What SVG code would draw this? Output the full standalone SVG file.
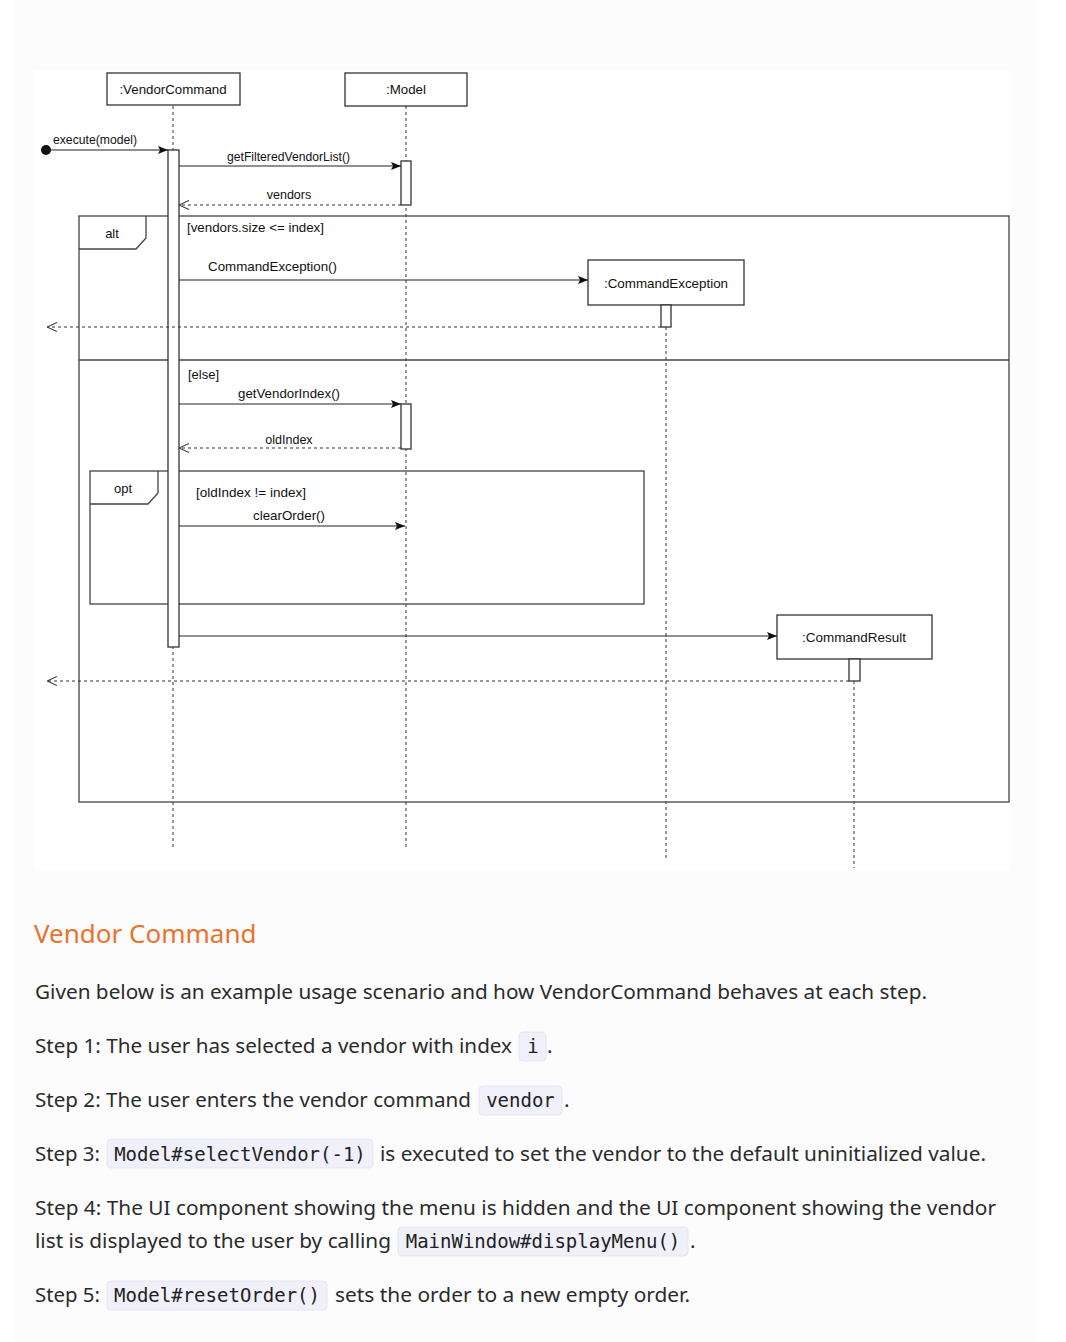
<svg xmlns="http://www.w3.org/2000/svg" width="1066" height="1342" viewBox="0 0 1066 1342">
<defs>
<style>
.box{fill:#fff;stroke:#333;stroke-width:1.3}
.frame{fill:none;stroke:#444;stroke-width:1.3}
.life{stroke:#555;stroke-width:1.2;stroke-dasharray:3,3;fill:none}
.act{fill:#fff;stroke:#333;stroke-width:1.3}
.msg{stroke:#222;stroke-width:1.2;fill:none}
.ret{stroke:#333;stroke-width:1.2;stroke-dasharray:3,3;fill:none}
.t{font-family:"Liberation Sans",Arial,sans-serif;font-size:13px;fill:#111}
.tn{font-family:"Liberation Sans",Arial,sans-serif;font-size:13.3px;fill:#111}
.p{font-family:"Noto Sans","Open Sans",sans-serif;font-size:20.8px;fill:#2b2b2b}
.h{font-family:"Noto Sans","Open Sans",sans-serif;font-size:26px;fill:#e8732c}
.c{font-family:"DejaVu Sans Mono","Liberation Mono",monospace;font-size:19px;fill:#222}
.cb{fill:#f0f0fa;stroke:#e6e6f2;stroke-width:1}
</style>
<marker id="fill" viewBox="0 0 10 10" refX="10" refY="5" markerWidth="10" markerHeight="10" markerUnits="userSpaceOnUse" orient="auto">
<path d="M0,1 L10,5 L0,9 L2,5 Z" fill="#111"/>
</marker>
<marker id="open" viewBox="0 0 10 10" refX="10" refY="5" markerWidth="10" markerHeight="10" markerUnits="userSpaceOnUse" orient="auto">
<path d="M0,0.5 L10,5 L0,9.5" fill="none" stroke="#333" stroke-width="1.1"/>
</marker>
</defs>
<rect x="0" y="0" width="1066" height="1342" fill="#fff"/>
<rect x="15" y="0" width="1023" height="1342" fill="#fcfcfc"/>
<rect x="33" y="70" width="977" height="800" fill="#fff"/>

<g id="lifelines">
<line class="life" x1="173" y1="106" x2="173" y2="847"/>
<line class="life" x1="406" y1="106" x2="406" y2="847"/>
<line class="life" x1="666" y1="327" x2="666" y2="858"/>
<line class="life" x1="854" y1="681" x2="854" y2="868"/>
</g>

<g id="alt-frame">
<rect class="frame" x="79" y="216" width="930" height="586"/>
<path class="frame" d="M79,249 L136,249 L146,238 L146,216"/>
<line class="frame" x1="79" y1="360" x2="1009" y2="360"/>
<text class="t" x="112" y="238" text-anchor="middle">alt</text>
<text class="t" x="187" y="232" textLength="137" lengthAdjust="spacingAndGlyphs">[vendors.size &lt;= index]</text>
<text class="t" x="188" y="379">[else]</text>
</g>

<g id="opt-frame">
<rect class="frame" x="90" y="471" width="554" height="133"/>
<path class="frame" d="M90,504 L148,504 L158,493 L158,471"/>
<text class="t" x="123" y="493" text-anchor="middle">opt</text>
<text class="t" x="196" y="497" textLength="110" lengthAdjust="spacingAndGlyphs">[oldIndex != index]</text>
</g>

<g id="node-vendorcommand">
<rect class="box" x="107" y="73" width="133" height="32"/>
<text class="tn" x="173" y="93.5" text-anchor="middle">:VendorCommand</text>
<rect class="act" x="168" y="150" width="11" height="497"/>
</g>

<g id="node-model">
<rect class="box" x="345" y="73" width="122" height="33"/>
<text class="tn" x="406" y="94" text-anchor="middle">:Model</text>
<rect class="act" x="401" y="161" width="10" height="44"/>
<rect class="act" x="401" y="404" width="10" height="45"/>
</g>

<g id="node-commandexception">
<rect class="box" x="588" y="260" width="156" height="45"/>
<text class="tn" x="666" y="287.5" text-anchor="middle" textLength="124" lengthAdjust="spacingAndGlyphs">:CommandException</text>
<rect class="act" x="661" y="305" width="10" height="22"/>
</g>

<g id="node-commandresult">
<rect class="box" x="777" y="615" width="155" height="44"/>
<text class="tn" x="854" y="641.5" text-anchor="middle" textLength="104" lengthAdjust="spacingAndGlyphs">:CommandResult</text>
<rect class="act" x="849" y="659" width="11" height="22"/>
</g>

<g id="connectors">
<circle cx="46" cy="150" r="5" fill="#111"/>
<line class="msg" x1="46" y1="150" x2="168" y2="150" marker-end="url(#fill)"/>
<text class="t" x="53" y="144" textLength="84" lengthAdjust="spacingAndGlyphs" style="font-size:12px">execute(model)</text>

<line class="msg" x1="179" y1="166" x2="401" y2="166" marker-end="url(#fill)"/>
<text class="t" x="227" y="161" textLength="123" lengthAdjust="spacingAndGlyphs" style="font-size:12.5px">getFilteredVendorList()</text>

<line class="ret" x1="401" y1="205" x2="179" y2="205" marker-end="url(#open)"/>
<text class="t" x="289" y="199" text-anchor="middle" style="font-size:12.5px">vendors</text>

<line class="msg" x1="179" y1="280" x2="588" y2="280" marker-end="url(#fill)"/>
<text class="t" x="208" y="271" textLength="129" lengthAdjust="spacingAndGlyphs">CommandException()</text>

<line class="ret" x1="661" y1="327" x2="47" y2="327" marker-end="url(#open)"/>

<line class="msg" x1="179" y1="404" x2="401" y2="404" marker-end="url(#fill)"/>
<text class="t" x="238" y="398" textLength="102" lengthAdjust="spacingAndGlyphs">getVendorIndex()</text>

<line class="ret" x1="401" y1="448" x2="179" y2="448" marker-end="url(#open)"/>
<text class="t" x="289" y="444" text-anchor="middle" style="font-size:12.5px">oldIndex</text>

<line class="msg" x1="179" y1="526" x2="405" y2="526" marker-end="url(#fill)"/>
<text class="t" x="253" y="520" textLength="72" lengthAdjust="spacingAndGlyphs">clearOrder()</text>

<line class="msg" x1="179" y1="636" x2="777" y2="636" marker-end="url(#fill)"/>

<line class="ret" x1="849" y1="681" x2="47" y2="681" marker-end="url(#open)"/>
</g>

<g id="text-section">
<text class="h" x="34" y="943">Vendor Command</text>
<text class="p" x="35" y="999" textLength="892" lengthAdjust="spacingAndGlyphs">Given below is an example usage scenario and how VendorCommand behaves at each step.</text>

<text class="p" x="35" y="1053" textLength="477" lengthAdjust="spacingAndGlyphs">Step 1: The user has selected a vendor with index</text>
<rect class="cb" x="519" y="1032" width="27" height="29" rx="4"/>
<text class="c" x="533" y="1053" text-anchor="middle">i</text>
<text class="p" x="547" y="1053">.</text>

<text class="p" x="35" y="1107" textLength="436" lengthAdjust="spacingAndGlyphs">Step 2: The user enters the vendor command</text>
<rect class="cb" x="479" y="1086" width="83" height="29" rx="4"/>
<text class="c" x="520.5" y="1107" text-anchor="middle">vendor</text>
<text class="p" x="564" y="1107">.</text>

<text class="p" x="35" y="1161" textLength="65" lengthAdjust="spacingAndGlyphs">Step 3:</text>
<rect class="cb" x="107" y="1139" width="266" height="29" rx="4"/>
<text class="c" x="240" y="1161" text-anchor="middle">Model#selectVendor(-1)</text>
<text class="p" x="380" y="1161" textLength="606" lengthAdjust="spacingAndGlyphs">is executed to set the vendor to the default uninitialized value.</text>

<text class="p" x="35" y="1215" textLength="961" lengthAdjust="spacingAndGlyphs">Step 4: The UI component showing the menu is hidden and the UI component showing the vendor</text>
<text class="p" x="35" y="1248" textLength="356" lengthAdjust="spacingAndGlyphs">list is displayed to the user by calling</text>
<rect class="cb" x="398" y="1227" width="290" height="29" rx="4"/>
<text class="c" x="543" y="1248" text-anchor="middle">MainWindow#displayMenu()</text>
<text class="p" x="690" y="1248">.</text>

<text class="p" x="35" y="1302" textLength="65" lengthAdjust="spacingAndGlyphs">Step 5:</text>
<rect class="cb" x="107" y="1281" width="220" height="29" rx="4"/>
<text class="c" x="217" y="1302" text-anchor="middle">Model#resetOrder()</text>
<text class="p" x="335" y="1302" textLength="355" lengthAdjust="spacingAndGlyphs">sets the order to a new empty order.</text>
</g>
</svg>
